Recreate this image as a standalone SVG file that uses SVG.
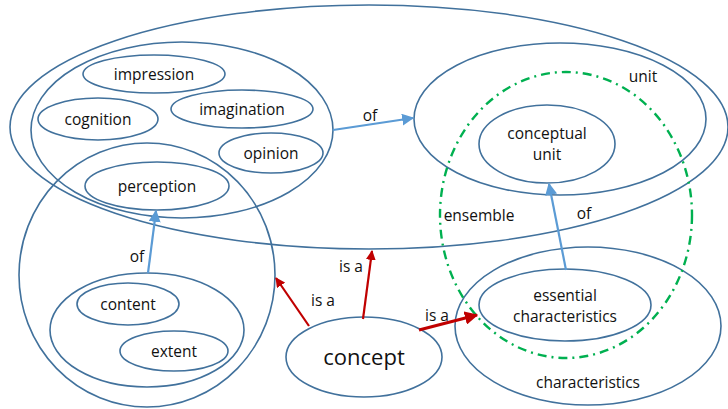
<svg xmlns="http://www.w3.org/2000/svg" width="728" height="409" viewBox="0 0 728 409">
<defs>
<style>
.e{fill:none;stroke:#41719C;stroke-width:1.6}
.t{font-family:"Open Sans","Noto Sans","Liberation Sans",sans-serif;font-size:15.5px;fill:#111;text-anchor:middle}
.b{fill:none;stroke:#5B9BD5;stroke-width:2.2}
.r{fill:none;stroke:#C00000;stroke-width:2.2}
.g{fill:none;stroke:#00B050;stroke-width:2.4;stroke-dasharray:9 5 2 5}
</style>
<marker id="ab" viewBox="0 0 10 10" refX="9" refY="5" markerWidth="5.5" markerHeight="5.5" orient="auto" markerUnits="strokeWidth"><path d="M0,0 L10,5 L0,10 z" fill="#5B9BD5"/></marker>
<marker id="ar" viewBox="0 0 10 10" refX="9" refY="5" markerWidth="4.5" markerHeight="4.5" orient="auto" markerUnits="strokeWidth"><path d="M0,0 L10,5 L0,10 z" fill="#C00000"/></marker>
</defs>
<rect width="728" height="409" fill="#fff"/>
<g id="outer"><ellipse class="e" cx="369" cy="127" rx="359" ry="122"/></g>
<g id="mental"><ellipse class="e" cx="182" cy="130" rx="151" ry="88"/></g>
<g id="perception-set"><ellipse class="e" cx="147" cy="275" rx="128" ry="132"/></g>
<g id="impression"><ellipse class="e" cx="154" cy="74" rx="71" ry="19"/><text class="t" x="154" y="80">impression</text></g>
<g id="cognition"><ellipse class="e" cx="98" cy="119" rx="60" ry="21"/><text class="t" x="98" y="125">cognition</text></g>
<g id="imagination"><ellipse class="e" cx="242" cy="109" rx="71" ry="19"/><text class="t" x="242" y="115">imagination</text></g>
<g id="opinion"><ellipse class="e" cx="271" cy="153" rx="52" ry="20"/><text class="t" x="271" y="159">opinion</text></g>
<g id="perception"><ellipse class="e" cx="157" cy="186" rx="72" ry="24"/><text class="t" x="157" y="192">perception</text></g>
<g id="content-extent"><ellipse class="e" cx="147" cy="330" rx="97" ry="57"/></g>
<g id="content"><ellipse class="e" cx="128" cy="304" rx="51" ry="21"/><text class="t" x="128" y="310">content</text></g>
<g id="extent"><ellipse class="e" cx="174" cy="351" rx="54" ry="20"/><text class="t" x="174" y="357">extent</text></g>
<g id="unit"><ellipse class="e" cx="560" cy="119" rx="146" ry="76"/><text class="t" x="643" y="82">unit</text></g>
<g id="conceptual-unit"><ellipse class="e" cx="547" cy="144" rx="68" ry="39"/><text class="t" x="547" y="139">conceptual</text><text class="t" x="547" y="160">unit</text></g>
<g id="characteristics"><ellipse class="e" cx="588" cy="326" rx="133" ry="79"/><text class="t" x="588" y="388">characteristics</text></g>
<g id="essential"><ellipse class="e" cx="565" cy="305" rx="86" ry="36"/><text class="t" x="565" y="301">essential</text><text class="t" x="565" y="322">characteristics</text></g>
<g id="ensemble"><ellipse class="g" cx="566" cy="215" rx="126" ry="143"/><text class="t" x="479" y="221">ensemble</text></g>
<g id="concept"><ellipse class="e" cx="364" cy="357" rx="78" ry="40"/><text class="t" x="364" y="365" style="font-size:22px">concept</text></g>
<g id="connectors">
<line class="b" x1="333" y1="130" x2="413" y2="118" marker-end="url(#ab)"/>
<text class="t" x="370" y="121">of</text>
<line class="b" x1="148" y1="273" x2="156" y2="211" marker-end="url(#ab)"/>
<text class="t" x="137" y="262">of</text>
<line class="b" x1="566" y1="270" x2="549" y2="184" marker-end="url(#ab)"/>
<text class="t" x="584" y="219">of</text>
<line class="r" x1="309" y1="326" x2="276" y2="278" marker-end="url(#ar)"/>
<text class="t" x="323" y="306">is a</text>
<line class="r" x1="363" y1="319" x2="372" y2="251" marker-end="url(#ar)"/>
<text class="t" x="351" y="272">is a</text>
<line class="r" x1="419" y1="330" x2="477" y2="315" marker-end="url(#ar)" style="stroke-width:3"/>
<text class="t" x="437" y="321">is a</text>
</g>
</svg>
